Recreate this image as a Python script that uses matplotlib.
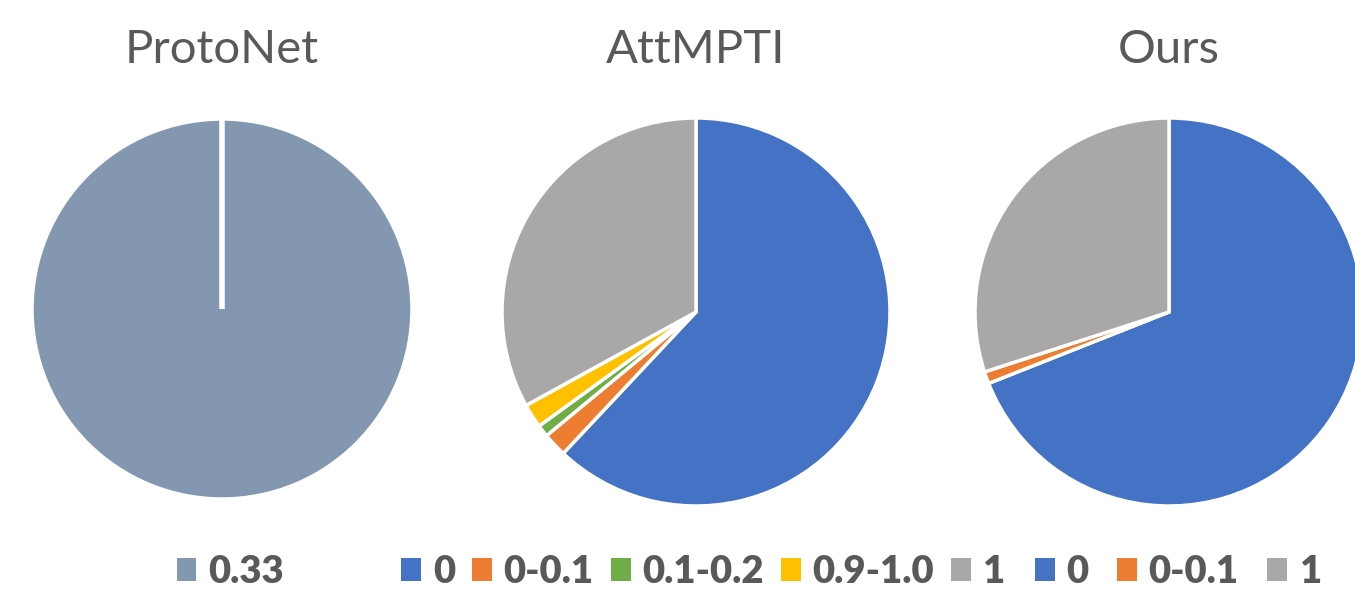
import matplotlib
matplotlib.use("Agg")
import matplotlib.pyplot as plt

# ---- data ----
titles = ["ProtoNet", "AttMPTI", "Ours"]

protonet_labels = ["0.33"]
protonet_values = [100]

attmpti_labels = ["0", "0-0.1", "0.1-0.2", "0.9-1.0", "1"]
attmpti_values = [62, 2, 1, 2, 33]

ours_labels = ["0", "0-0.1", "1"]
ours_values = [69, 1, 30]

# ---- styling ----
palette = {
    "0": "#4472C4", "0-0.1": "#ED7D31", "0.1-0.2": "#70AD47",
    "0.9-1.0": "#FFC000", "1": "#A9A7A7", "0.33": "#8497B0",
}
text_color = "#595959"
title_font = ["Lato", "DejaVu Sans"]
legend_font = ["Lato", "DejaVu Sans"]

W, H = 1355, 596
fig = plt.figure(figsize=(W / 100, H / 100), dpi=100)

# (center x px, center y px from top, radius px, legend center x px, column gap)
layout = [
    (222, 309, 190, 230, 0.45),
    (696, 312, 194, 703, 0.45),
    (1169, 312, 194, 1178, 0.75),
]
series = [
    (protonet_labels, protonet_values),
    (attmpti_labels, attmpti_values),
    (ours_labels, ours_values),
]

for (cx, cy, r, lx, gap), title, (labels, values) in zip(layout, titles, series):
    ax = fig.add_axes([(cx - r) / W, (H - cy - r) / H, 2 * r / W, 2 * r / H])
    wedges, _ = ax.pie(
        values, colors=[palette[l] for l in labels], startangle=90,
        counterclock=False, radius=1.0,
        wedgeprops=dict(edgecolor="white", linewidth=2.5),
    )
    if len(values) == 1:
        # single-slice pie still shows its start seam
        ax.plot([0, 0], [0, 1], color="white", lw=4, solid_capstyle="butt")
    ax.set_xlim(-1, 1)
    ax.set_ylim(-1, 1)
    ax.set_aspect("equal")
    ax.axis("off")

    fig.text(cx / W, (H - 63) / H, title, ha="center", va="baseline",
             fontsize=34, color=text_color, family=title_font)

    leg = fig.legend(
        wedges, labels, loc="center", bbox_to_anchor=(lx / W, (H - 572) / H),
        ncol=len(labels), frameon=False, handlelength=0.52, handleheight=0.52,
        handletextpad=0.3, columnspacing=gap, borderpad=0, borderaxespad=0,
        prop=dict(family=legend_font, weight="heavy", size=27.5),
        labelcolor=text_color,
    )
    for h in leg.legend_handles:
        h.set_edgecolor("none")

fig.savefig("out.png", dpi=100, facecolor="white")
